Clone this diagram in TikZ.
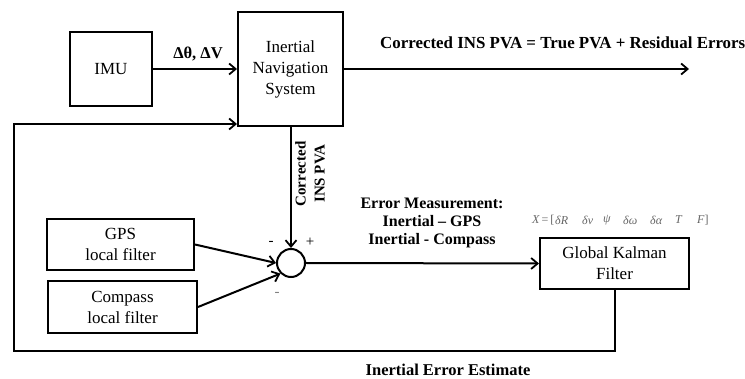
\documentclass[tikz,border=0pt]{standalone}
\usepackage{fontspec}
\setmainfont{Liberation Serif}
\usetikzlibrary{arrows.meta}
\begin{document}
\begin{tikzpicture}[x=1pt,y=-1pt,
  box/.style={draw,line width=2pt,rectangle,inner sep=0pt,align=center,font=\fontsize{17}{21}\selectfont},
  conn/.style={line width=2pt},
  arr/.style={conn,-{Straight Barb[length=6.5pt,width=11pt,line width=1.8pt]}},
  lbl/.style={font=\fontsize{16.5}{18}\selectfont\bfseries,inner sep=0pt,align=center},
  sgn/.style={font=\fontsize{15}{16}\selectfont,inner sep=0pt},
  fx/.style={font=\fontsize{12}{13}\selectfont\itshape,text=black!60,inner sep=0pt,anchor=west}]
\useasboundingbox (0,0) rectangle (745,379);
% blocks
\node[box,minimum width=82pt,minimum height=74pt] (imu) at (111,69) {IMU};
\node[box,minimum width=105pt,minimum height=114pt] (ins) at (290.5,69) {Inertial\\Navigation\\System};
\node[box,minimum width=147pt,minimum height=51pt] (gps) at (120.5,244.5) {GPS\\local filter};
\node[box,minimum width=149pt,minimum height=52pt] (comp) at (122.5,307) {Compass\\local filter};
\node[draw,circle,line width=2pt,minimum size=28pt,inner sep=0pt] (sum) at (291,263) {};
\node[box,minimum width=149pt,minimum height=51pt] (gkf) at (614.5,263.5) {Global Kalman\\Filter};
% coordinates
\coordinate (out) at (689,69);
\coordinate (fbr) at (615,351);
\coordinate (fbl) at (14,351);
\coordinate (fbt) at (14,124);
\coordinate (insin) at (ins.west |- fbt);
% connectors
\draw[arr] (imu.east) -- (ins.west);
\draw[arr] (ins.east) -- (out);
\draw[arr] (ins.south -| sum.north) -- (sum.north);
\draw[arr] (gps.east) -- (sum.west);
\draw[arr] (comp.east) -- (sum.south west);
\draw[arr] (sum.east) -- (gkf.west);
\draw[arr] (gkf.south -| fbr) -- (fbr) -- (fbl) -- (fbt) -- (insin);
% labels
\node[lbl] (dl) at (198,54) {Δθ, ΔV};
\node[lbl,anchor=west,font=\fontsize{16.9}{18}\selectfont\bfseries] (outl) at (380,43) {Corrected INS PVA = True PVA + Residual Errors};
\node[lbl,rotate=90,font=\fontsize{15}{19}\selectfont\bfseries] (cl) at (310,174) {Corrected\\INS PVA};
\node[lbl,font=\fontsize{16}{18}\selectfont\bfseries] (eml) at (432,223) {Error Measurement:\\Inertial – GPS\\Inertial - Compass};
\node[lbl] (iee) at (448,370) {Inertial Error Estimate};
\node[sgn] (s1) at (271,243) {-};
\node[sgn] (s2) at (310,242) {+};
\node[sgn,text=black!50] (s3) at (277,294) {-};
% state vector
\node[fx] (x1) at (532,220) {X\,\upshape =\,[};
\node[fx] (x2) at (555,220) {δR};
\node[fx] (x3) at (582,220) {δv};
\node[fx] (x4) at (603,220) {ψ};
\node[fx] (x5) at (623,220) {δω};
\node[fx] (x6) at (650,220) {δα};
\node[fx] (x7) at (675,220) {T};
\node[fx] (x8) at (697,220) {F\upshape ]};
\end{tikzpicture}
\end{document}
